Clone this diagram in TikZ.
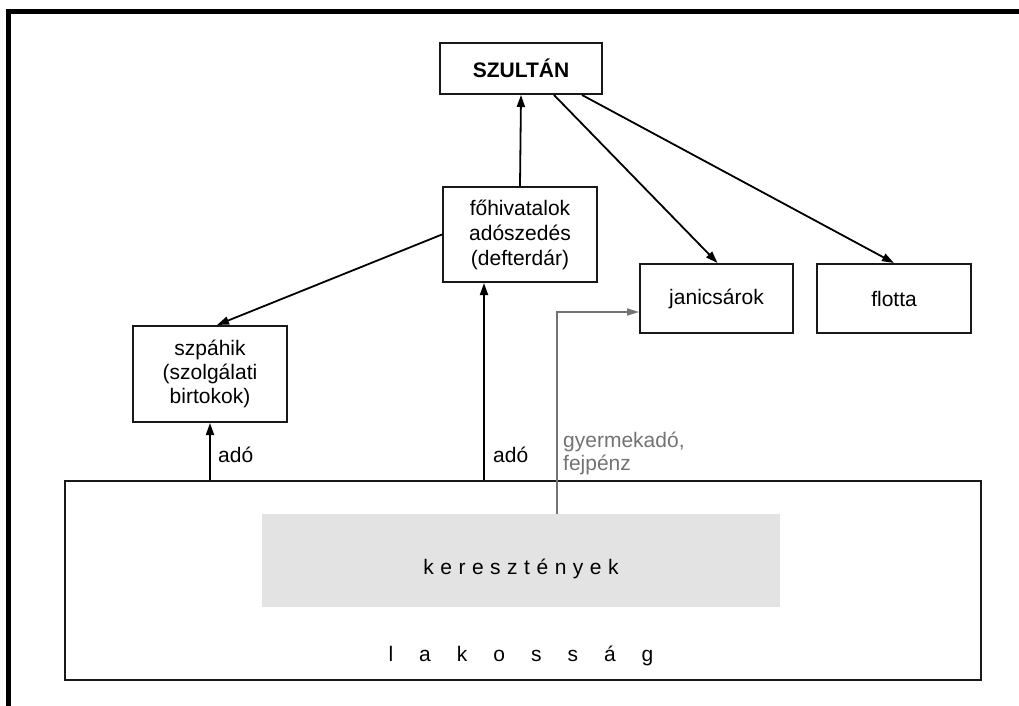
\documentclass[tikz,border=0pt]{standalone}
\usepackage{fontspec}
\setmainfont{Liberation Sans}
\usetikzlibrary{arrows.meta,calc}
\begin{document}
\begin{tikzpicture}[x=1pt,y=-1pt,
  box/.style={draw=black!90,line width=2pt,fill=white,inner sep=0pt,align=center,
    font=\fontsize{21}{25}\selectfont},
  conn/.style={draw=black,line width=1.8pt,-{Triangle[length=12pt,width=8pt]}},
  grayconn/.style={draw=black!55,line width=1.6pt,-{Triangle[length=12pt,width=7pt]}},
  lbl/.style={inner sep=0pt,font=\fontsize{21}{25}\selectfont},
  frameline/.style={draw=black,line width=5pt}]
\useasboundingbox (0,0) rectangle (1019,706);
% outer frame (top and left)
\coordinate (ftl) at (8,11.5);
\coordinate (ftr) at (1019,11.5);
\coordinate (fbl) at (8,706);
\draw[frameline] (fbl) -- (ftl) -- (ftr);
% nodes
\node[box,minimum width=162pt,minimum height=51pt,font=\fontsize{21}{25}\selectfont\bfseries] (sultan) at (521,68.5) {SZULTÁN};
\node[box,minimum width=154pt,minimum height=95pt] (fohiv) at (520,234.5) {főhivatalok\\adószedés\\(defterdár)};
\node[box,minimum width=154pt,minimum height=96pt,font=\fontsize{21}{24}\selectfont] (szpahik) at (210,374) {szpáhik\\(szolgálati\\birtokok)};
\node[box,minimum width=153pt,minimum height=69pt] (janics) at (716.5,298.5) {janicsárok};
\node[box,minimum width=154pt,minimum height=69pt] (flotta) at (894,298.5) {flotta};
\node[draw=black!90,line width=2pt,minimum width=916pt,minimum height=199pt,inner sep=0pt] (lakossag) at (523,580.5) {};
\node[fill=black!11,minimum width=518pt,minimum height=93pt,inner sep=0pt] (kereszt) at (521,560.5) {};
\node[lbl,anchor=base] (kertext) at (521,574) {k\hspace{6.5pt}e\hspace{6.5pt}r\hspace{6.5pt}e\hspace{6.5pt}s\hspace{6.5pt}z\hspace{6.5pt}t\hspace{6.5pt}é\hspace{6.5pt}n\hspace{6.5pt}y\hspace{6.5pt}e\hspace{6.5pt}k};
\node[lbl,anchor=base] (laktext) at (521,661) {l\hspace{26pt}a\hspace{26pt}k\hspace{26pt}o\hspace{26pt}s\hspace{26pt}s\hspace{26pt}á\hspace{26pt}g};
% labels
\node[lbl,anchor=base west] (ado1) at (218,462) {adó};
\node[lbl,anchor=base west] (ado2) at (493,462) {adó};
\node[lbl,anchor=west,align=left,text=black!55,font=\fontsize{21}{23}\selectfont] (gyerm) at (563,453) {gyermekadó,\\fejpénz};
% connectors
\draw[conn] (fohiv.north) -- (sultan.south);
\draw[conn] ([xshift=115pt]sultan.south west) -- ([xshift=1pt]janics.north);
\draw[conn] ([xshift=143pt]sultan.south west) -- (flotta.north);
\draw[conn] (fohiv.west) -- ([xshift=7pt]szpahik.north);
\draw[conn] (szpahik.south |- lakossag.north) -- (szpahik.south);
\coordinate (fohivfoot) at ([xshift=42pt]fohiv.south west);
\draw[conn] (fohivfoot |- lakossag.north) -- (fohivfoot);
\coordinate (kerfoot) at ([xshift=295pt]kereszt.north west);
\draw[grayconn] (kerfoot) |- ([yshift=-13.5pt]janics.west);
\end{tikzpicture}
\end{document}
